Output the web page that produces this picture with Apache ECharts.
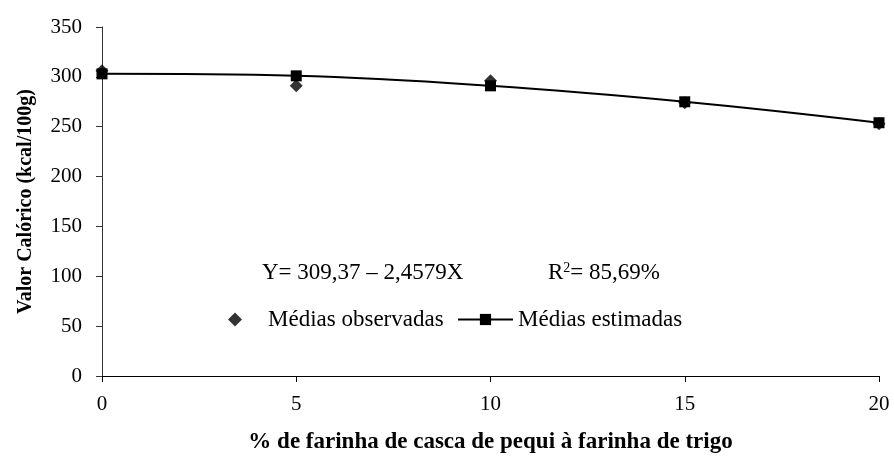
<!DOCTYPE html>
<html>
<head>
<meta charset="utf-8">
<script src="https://cdn.jsdelivr.net/npm/echarts@6/dist/echarts.min.js"></script>
<style>
    html, body { margin: 0; padding: 0; background: #fff; }
    #myChart { width: 894px; height: 464px; }
</style>
</head>
<body>
<div id="myChart"></div>
<script>
    // % de farinha de casca de pequi
    var levels = [0, 5, 10, 15, 20];
    var observed = [306, 291, 296, 274, 253];
    var estimated = [303, 301, 291, 275, 254];
    var yTicks = [0, 350, 50];

    var font = '"Liberation Serif", "Times New Roman", serif';

    var obsData = [];
    var estData = [];
    for (var i = 0; i < levels.length; i++) {
        obsData.push([levels[i], observed[i]]);
        estData.push([levels[i], estimated[i]]);
    }

    var myChart = echarts.init(document.getElementById('myChart'));
    myChart.setOption({
        backgroundColor: '#fff',
        animation: false,
        textStyle: { fontFamily: font, color: '#000' },
        grid: { left: 102, right: 15, top: 27, bottom: 88 },
        legend: [
            {
                left: 228,
                top: 308,
                padding: 0,
                itemWidth: 14,
                itemHeight: 14,
                textStyle: { fontFamily: font, fontSize: 23, color: '#000', padding: [0, 0, 0, 21] },
                data: [{ name: 'Médias observadas', icon: 'diamond' }]
            },
            {
                left: 457,
                top: 308,
                padding: 0,
                itemWidth: 55,
                itemHeight: 14,
                textStyle: { fontFamily: font, fontSize: 23, color: '#000' },
                data: [{ name: 'Médias estimadas' }]
            }
        ],
        xAxis: {
            type: 'value',
            min: 0,
            max: 20,
            interval: 5,
            name: '% de farinha de casca de pequi à farinha de trigo',
            nameLocation: 'middle',
            nameGap: 55,
            nameTextStyle: { fontFamily: font, fontSize: 23, fontWeight: 'bold', color: '#000' },
            axisLine: { lineStyle: { color: '#000', width: 1 } },
            axisTick: { length: 6, lineStyle: { color: '#000' } },
            axisLabel: { margin: 18, fontFamily: font, fontSize: 21, color: '#000' },
            splitLine: { show: false }
        },
        yAxis: {
            type: 'value',
            min: yTicks[0],
            max: yTicks[1],
            interval: yTicks[2],
            name: 'Valor Calórico (kcal/100g)',
            nameLocation: 'middle',
            nameGap: 66,
            nameRotate: 90,
            nameTextStyle: { fontFamily: font, fontSize: 20, fontWeight: 'bold', color: '#000' },
            axisLine: { show: true, lineStyle: { color: '#333', width: 1 } },
            axisTick: { show: true, length: 6, lineStyle: { color: '#333' } },
            axisLabel: { margin: 20, fontFamily: font, fontSize: 21, color: '#000' },
            splitLine: { show: false }
        },
        graphic: [
            {
                type: 'text',
                left: 262,
                top: 261,
                style: {
                    text: 'Y= 309,37 – 2,4579X',
                    font: '23px ' + font,
                    fill: '#000'
                }
            },
            {
                type: 'text',
                left: 548,
                top: 261,
                style: {
                    text: 'R{s|2}= 85,69%',
                    font: '23px ' + font,
                    fill: '#000',
                    rich: {
                        s: { fontSize: 14, fontFamily: font, verticalAlign: 'top', padding: [0, 0, 10, 0] }
                    }
                }
            }
        ],
        series: [
            {
                name: 'Médias observadas',
                type: 'scatter',
                symbol: 'diamond',
                symbolSize: 13,
                itemStyle: { color: '#000' },
                data: obsData,
                z: 2
            },
            {
                name: 'Médias estimadas',
                type: 'line',
                smooth: 0.4,
                symbol: 'rect',
                symbolSize: 11,
                showAllSymbol: true,
                lineStyle: { color: '#000', width: 2 },
                itemStyle: { color: '#000' },
                data: estData,
                z: 3
            }
        ]
    });
</script>
</body>
</html>
